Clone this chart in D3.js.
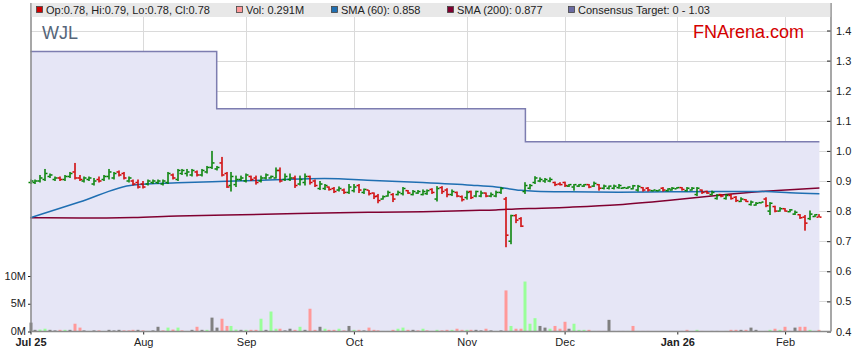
<!DOCTYPE html>
<html>
<head>
<meta charset="utf-8">
<script src="https://cdn.jsdelivr.net/npm/d3@7"></script>
<style>
    body { margin: 0; background: #fff; }
    svg { display: block; font-family: "Liberation Sans", Arial, sans-serif; }
</style>
</head>
<body>
<svg id="chart" width="859" height="363"></svg>
<script>

// Month labels and the weekday index (from 1 Jul 2025) where each month starts
const monthLabels = ['Jul 25', 'Aug', 'Sep', 'Oct', 'Nov', 'Dec', 'Jan 26', 'Feb'];
const monthIdx = [0, 23, 44, 66, 89, 109, 132, 154];
const boldLabels = ['Jul 25', 'Jan 26'];

const priceTicks = [0.4, 0.5, 0.6, 0.7, 0.8, 0.9, 1.0, 1.1, 1.2, 1.3, 1.4];
const volTicks = [0, 5, 10];

// Daily OHLC, one entry per weekday
const openVals = [
    .895,.895,.90,.905,.915,.905,.91,.905,.915,.93, .91,.90,.905,.89,.905,.905,.915,.91,.93,.925,
    .90,.90,.895,.89,.89,.895,.895,.89,.895,.92, .905,.925,.925,.92,.93,.92,.93,.945,.94,.96,
    .925,.885,.888,.905,.90,.915,.91,.90,.91,.91, .91,.935,.905,.905,.91,.89,.895,.915,.90,.875,
    .875,.88,.875,.87,.87,.862,.868,.885,.862,.87, .86,.85,.84,.85,.855,.855,.858,.868,.855,.86,
    .855,.858,.872,.84,.878,.87,.855,.862,.848,.845, .865,.85,.85,.86,.85,.85,.862,.84,.70,.785,
    .775,.865,.876,.895,.90,.90,.90,.895,.89,.895, .883,.88,.883,.883,.888,.883,.888,.876,.876,.876,
    .878,.876,.876,.874,.87,.878,.876,.868,.868,.876, .868,.87,.874,.878,.868,.87,.855,.87,.865,.855,
    .842,.855,.842,.852,.846,.832,.838,.822,.82,.828, .84,.80,.815,.80,.808,.798,.79,.788,.78,.775,
    .782,.78
];
const highVals = [
    .905,.905,.92,.94,.925,.915,.915,.92,.93,.96, .92,.915,.915,.91,.915,.92,.94,.93,.935,.93,
    .915,.905,.905,.90,.905,.905,.905,.905,.93,.925, .94,.94,.94,.94,.935,.94,.95,1.0,.95,.98,
    .93,.93,.918,.918,.925,.918,.918,.918,.925,.918, .945,.945,.925,.925,.918,.918,.925,.918,.905,.90,
    .89,.882,.88,.882,.875,.89,.89,.89,.875,.87, .862,.857,.852,.868,.86,.868,.88,.87,.87,.87,
    .872,.872,.876,.883,.883,.876,.872,.865,.852,.868, .868,.868,.868,.862,.862,.868,.88,.847,.788,.79,
    .78,.896,.89,.916,.912,.91,.912,.898,.896,.898, .89,.89,.89,.89,.89,.898,.89,.888,.885,.888,
    .89,.88,.882,.887,.887,.88,.88,.87,.87,.88, .876,.88,.88,.88,.88,.88,.88,.872,.868,.868,
    .857,.857,.857,.857,.85,.846,.84,.835,.83,.83, .846,.83,.818,.813,.81,.807,.802,.79,.787,.802,
    .79,.79
];
const lowVals = [
    .89,.89,.895,.90,.91,.90,.90,.90,.91,.905, .90,.895,.90,.885,.895,.90,.905,.905,.915,.905,
    .895,.885,.875,.875,.885,.89,.89,.885,.89,.905, .90,.92,.915,.915,.915,.915,.925,.94,.935,.915,
    .877,.865,.88,.90,.895,.90,.888,.895,.905,.908, .908,.895,.90,.90,.877,.885,.885,.888,.88,.87,
    .87,.868,.86,.865,.857,.857,.862,.86,.857,.852, .84,.826,.838,.848,.83,.852,.852,.857,.852,.857,
    .852,.854,.857,.832,.857,.846,.85,.846,.832,.838, .84,.846,.846,.846,.846,.846,.857,.68,.69,.76,
    .747,.857,.872,.89,.896,.894,.896,.883,.885,.88, .88,.868,.88,.88,.876,.88,.868,.872,.872,.872,
    .874,.874,.874,.872,.865,.865,.865,.868,.868,.865, .865,.868,.874,.868,.865,.868,.85,.857,.857,.852,
    .838,.846,.838,.838,.83,.83,.83,.818,.818,.828, .813,.787,.796,.798,.798,.796,.787,.774,.735,.77,
    .78,.78
];
const closeVals = [
    .90,.90,.91,.925,.92,.91,.905,.915,.925,.91, .905,.91,.91,.90,.90,.915,.93,.925,.92,.91,
    .91,.89,.88,.88,.90,.90,.90,.90,.925,.91, .935,.935,.93,.935,.92,.935,.945,.96,.945,.92,
    .88,.915,.905,.91,.92,.905,.895,.91,.92,.915, .935,.90,.915,.91,.885,.905,.915,.895,.885,.89,
    .885,.872,.865,.875,.862,.88,.88,.87,.872,.858, .848,.835,.848,.862,.84,.862,.875,.86,.865,.865,
    .865,.868,.862,.875,.865,.855,.865,.85,.838,.862, .845,.865,.86,.85,.855,.862,.875,.72,.785,.77,
    .75,.885,.885,.91,.905,.905,.905,.888,.888,.885, .888,.888,.888,.888,.88,.892,.876,.883,.883,.883,
    .885,.878,.88,.884,.882,.87,.87,.87,.87,.87, .874,.876,.878,.872,.876,.876,.876,.862,.86,.862,
    .852,.85,.852,.842,.835,.84,.832,.83,.826,.83, .818,.826,.80,.808,.80,.804,.796,.778,.76,.79,
    .788,.78
];

// Daily volume in millions, and its direction (u = up, d = down, n = unchanged)
const volVals = [
    1.6,0.3,0.35,0.5,0.3,0.2,0.3,0.3,0.3,1.4, 0.7,0.2,0.1,0.2,0.2,0.1,0.3,0.2,0.3,0.2,
    0.2,0.3,0.3,0.2,0.1,0.2,0.85,0.2,0.7,0.35, 0.7,0.2,0.1,0.3,0.85,0.3,0.3,2.5,0.7,2.3,
    1.0,1.0,0.35,0.3,0.3,0.3,0.3,2.3,0.3,3.6, 0.5,0.5,0.2,0.5,0.3,0.85,0.3,4.1,0.3,0.85,
    0.5,0.3,0.3,0.5,0.2,1.0,0.3,0.3,0.2,0.7, 0.3,0.2,0.1,0.1,0.3,0.5,0.7,0.3,0.3,0.2,
    0.5,0.2,0.1,0.3,0.2,0.3,0.3,0.5,0.3,0.3, 0.3,0.3,0.2,0.5,0.2,0.1,0.2,7.4,1.0,0.5,
    0.5,9.0,1.4,2.4,1.0,0.7,0.5,1.0,0.5,1.75, 0.5,1.4,0.3,0.3,0.3,0.1,0.1,0.1,2.1,0.1,
    0.1,0.1,0.1,1.0,0.1,0.1,0.1,0.03,0.03,0.1, 0.03,0.03,0.03,0.1,0.3,0.03,0.3,0.1,0.03,0.1,
    0.1,0.03,0.1,0.3,0.3,0.3,0.3,0.7,0.3,0.03, 0.1,0.3,0.5,0.3,0.85,0.1,0.7,0.85,0.85,0.3,
    0.1,0.291
];
const volDir = (
    'nnuunndund' + 'dnundunnnd' + 'ddndunndud' + 'udundnunnd' + 'duunuddunu' +
    'udnndunddn' + 'uddudnudnd' + 'dduuduudnd' + 'ud' + 'dudduddudn' +
    'ndnunduddu' + 'uunnudddnu' + 'uududdnnnn' + 'ududdnnunn' + 'nndnudnnnn' +
    'uddndnnndu' + 'duddndduud'
).split('');

// Moving averages read at a few days along the chart
const smaIdx = [0, 10, 21, 30, 40, 50, 60, 70, 80, 90, 95, 100, 103, 110, 120, 130, 140, 150, 155, 161];
const sma60 = [.778,.830,.887,.894,.899,.904,.908,.902,.895,.886,.880,.869,.866,.864,.863,.864,.865,.865,.861,.858];
const sma200 = [.778,.777,.779,.784,.787,.790,.794,.796,.798,.802,.804,.808,.809,.813,.821,.835,.852,.866,.871,.877];

// Consensus target steps (day it starts, value)
const targetIdx = [0, 38, 101];
const targetVal = [1.33, 1.14, 1.03];

const upColor = '#008000';
const downColor = '#d00000';
const volColors = { u: '#99ff99', d: '#ff9999', n: '#808080' };

function drawChart() {
    const chart = d3.select('#chart');
    chart.selectAll('*').remove();

    // Plot frame
    const left = 31, right = 831, top = 3, bottom = 331.5;
    const n = closeVals.length;

    const x = d3.scaleLinear().domain([0, n - 1]).range([30.5, 819.4]);
    const yPrice = d3.scaleLinear().domain([0.4, 1.4]).range([331.5, 30.5]);
    const yVol = d3.scaleLinear().domain([0, 10]).range([331.5, 276]);

    // Grid lines
    chart.append('g')
        .selectAll('line')
        .data(priceTicks.slice(1))
        .enter()
        .append('line')
            .attr('x1', left).attr('x2', right)
            .attr('y1', d => Math.round(yPrice(d)) + 0.5)
            .attr('y2', d => Math.round(yPrice(d)) + 0.5)
            .attr('stroke', '#dadada')
    chart.append('g')
        .selectAll('line')
        .data(monthIdx.slice(1))
        .enter()
        .append('line')
            .attr('x1', d => Math.round(x(d)) + 0.5)
            .attr('x2', d => Math.round(x(d)) + 0.5)
            .attr('y1', 17).attr('y2', bottom)
            .attr('stroke', '#dadada')

    // Consensus target as a stepped area
    const targetPts = targetIdx.map((d, i) => [d, targetVal[i]]);
    targetPts.push([n - 1, targetVal[targetVal.length - 1]]);

    const area = d3.area()
        .curve(d3.curveStepAfter)
        .x(d => x(d[0]))
        .y0(bottom)
        .y1(d => yPrice(d[1]));
    const line = d3.line()
        .curve(d3.curveStepAfter)
        .x(d => x(d[0]))
        .y(d => yPrice(d[1]));

    chart.append('path')
        .datum(targetPts)
        .attr('d', area)
        .attr('fill', '#e6e6f6')
    chart.append('path')
        .datum(targetPts)
        .attr('d', line)
        .attr('fill', 'none')
        .attr('stroke', '#7d7db0')
        .attr('stroke-width', 1.5)

    // Volume bars
    chart.append('g')
        .selectAll('rect')
        .data(volVals)
        .enter()
        .append('rect')
            .attr('x', (d, i) => Math.round(x(i)) - 1.5)
            .attr('y', d => yVol(d))
            .attr('width', 3)
            .attr('height', d => bottom - yVol(d))
            .attr('fill', (d, i) => volColors[volDir[i]])

    // Moving averages
    const smaLine = vals => d3.line()
        .curve(d3.curveMonotoneX)
        .x((d, i) => x(smaIdx[i]))
        .y(d => yPrice(d))(vals);

    chart.append('path')
        .attr('d', smaLine(sma200))
        .attr('fill', 'none')
        .attr('stroke', '#800030')
        .attr('stroke-width', 1.5)
    chart.append('path')
        .attr('d', smaLine(sma60))
        .attr('fill', 'none')
        .attr('stroke', '#1f6fb2')
        .attr('stroke-width', 1.5)

    // OHLC bars
    const barColor = i => {
        if (closeVals[i] > openVals[i]) return upColor;
        if (closeVals[i] < openVals[i]) return downColor;
        return (i > 0 && closeVals[i] < closeVals[i - 1]) ? downColor : upColor;
    }
    const bars = chart.append('g')
        .selectAll('g')
        .data(closeVals)
        .enter()
        .append('g')
            .attr('fill', (d, i) => barColor(i))

    bars.append('rect')
        .attr('x', (d, i) => Math.round(x(i)) - 0.75)
        .attr('y', (d, i) => yPrice(highVals[i]))
        .attr('width', 1.5)
        .attr('height', (d, i) => Math.max(1.5, yPrice(lowVals[i]) - yPrice(highVals[i])))
    bars.append('rect')
        .attr('x', (d, i) => Math.round(x(i)) - 2.5)
        .attr('y', (d, i) => yPrice(openVals[i]) - 0.75)
        .attr('width', 2)
        .attr('height', 1.5)
    bars.append('rect')
        .attr('x', (d, i) => Math.round(x(i)) + 0.5)
        .attr('y', (d, i) => yPrice(closeVals[i]) - 0.75)
        .attr('width', 2)
        .attr('height', 1.5)

    // Axes
    const styleAxis = g => {
        g.select('.domain').remove();
        g.attr('font-family', '"Liberation Sans", Arial, sans-serif').attr('font-size', 11);
        g.selectAll('line').attr('stroke', '#222');
        g.selectAll('text').attr('fill', '#222');
    }

    chart.append('g')
        .attr('transform', `translate(${right}, 0)`)
        .call(d3.axisRight(yPrice).tickValues(priceTicks).tickFormat(d3.format('.1f')).tickSize(-4).tickPadding(5))
        .call(styleAxis)

    chart.append('g')
        .attr('transform', `translate(${left}, 0)`)
        .call(d3.axisLeft(yVol).tickValues(volTicks).tickFormat(d => d + 'M').tickSize(3).tickPadding(2))
        .call(styleAxis)
        .selectAll('text')
            .attr('dy', '0.28em')

    chart.append('g')
        .attr('transform', `translate(0, ${bottom})`)
        .call(d3.axisBottom(x).tickValues(monthIdx).tickFormat((d, i) => monthLabels[i]).tickSize(3).tickPadding(4))
        .call(styleAxis)
        .selectAll('text')
            .attr('font-weight', d => boldLabels.includes(monthLabels[monthIdx.indexOf(d)]) ? 'bold' : 'normal')

    // Frame lines
    const frame = chart.append('g').attr('stroke', '#8a8a8a').attr('stroke-width', 1.5)
    frame.append('line').attr('x1', left).attr('x2', left).attr('y1', top).attr('y2', bottom)
    frame.append('line').attr('x1', right).attr('x2', right).attr('y1', top).attr('y2', bottom)
    frame.append('line').attr('x1', left).attr('x2', right).attr('y1', bottom).attr('y2', bottom)

    // Legend band
    chart.append('rect')
        .attr('x', left + 0.75).attr('y', top)
        .attr('width', right - left - 1.5).attr('height', 14)
        .attr('fill', '#e8e8e8')

    const last = n - 1;
    const f2 = d3.format('.2f');
    const legendItems = [
        { x: 36, color: downColor, text: `Op:${f2(openVals[last])}, Hi:${f2(highVals[last])}, Lo:${f2(lowVals[last])}, Cl:${f2(closeVals[last])}` },
        { x: 236, color: volColors[volDir[last]], text: `Vol: ${volVals[last].toFixed(3)}M` },
        { x: 331, color: '#1f6fb2', text: `SMA (60): ${sma60[sma60.length - 1].toFixed(3)}` },
        { x: 447, color: '#800030', text: `SMA (200): ${sma200[sma200.length - 1].toFixed(3)}` },
        { x: 568, color: '#6b6ba3', text: `Consensus Target: 0 - ${f2(targetVal[targetVal.length - 1])}` }
    ];
    const legend = chart.append('g')
        .selectAll('g')
        .data(legendItems)
        .enter()
        .append('g')
    legend.append('rect')
        .attr('x', d => d.x + 0.5).attr('y', 6.5)
        .attr('width', 6).attr('height', 6)
        .attr('fill', d => d.color)
        .attr('stroke', '#444')
        .attr('stroke-width', 0.8)
    legend.append('text')
        .attr('x', d => d.x + 10).attr('y', 14)
        .attr('font-size', 11)
        .attr('fill', '#222')
        .text(d => d.text)

    // Stock code and watermark
    chart.append('text')
        .attr('x', 42).attr('y', 38.5)
        .attr('font-size', 18)
        .attr('fill', '#56667a')
        .text('WJL')
    chart.append('text')
        .attr('x', 693).attr('y', 38)
        .attr('font-size', 18)
        .attr('fill', '#d40000')
        .text('FNArena.com')
}

drawChart();
</script>
</body>
</html>
